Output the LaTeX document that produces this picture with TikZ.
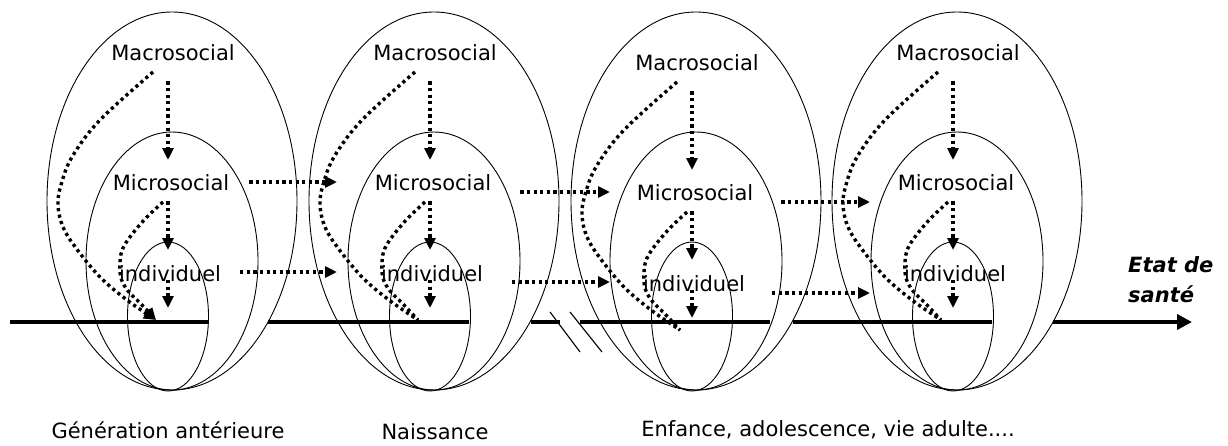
\documentclass[tikz,border=0pt]{standalone}
\usepackage{fontspec}
\setmainfont{DejaVu Sans}
\usetikzlibrary{arrows.meta}
\begin{document}
\begin{tikzpicture}[x=1pt,y=-1pt,
  ring/.style={draw=black,line width=0.9pt},
  lbl/.style={font=\fontsize{21}{25}\selectfont,inner sep=0pt},
  dots/.style={line width=3.4pt,dash pattern=on 3.2pt off 3.4pt},
  dotarrow/.style={dots,-{Triangle[length=12pt,width=11pt]}},
  axisline/.style={line width=4.5pt}]
\useasboundingbox (0,0) rectangle (1228,445);
\fill[white] (0,0) rectangle (1228,445);

% groups: index / bottom x / vertical offset
\foreach \i/\x/\d in {1/168/0, 2/430/0, 3/692/10, 4/953/0}{
  \draw[ring] (\x+4,201) ellipse [x radius=125, y radius=189];
  \draw[ring] (\x+4,261) ellipse [x radius=86, y radius=129];
  \draw[ring] (\x,316.5) ellipse [x radius=40.5, y radius=74.5];
  \node[lbl] (mac\i) at (\x+5,53+\d) {Macrosocial};
  \node[lbl] (mic\i) at (\x+3,183+\d) {Microsocial};
  \node[lbl] (ind\i) at (\x+2,274+\d) {individuel};
  \coordinate (ta\i) at (\x,160+\d);
  \coordinate (tb\i) at (\x,250+\d);
  \coordinate (tc\i) at (\x,308+\d);
  \draw[dotarrow,shorten <=20pt] (mac\i.south -| ta\i) -- (ta\i);
  \draw[dotarrow,shorten <=10pt] (mic\i.south -| tb\i) -- (tb\i);
  \draw[dotarrow,shorten <=6pt] (ind\i.center -| tc\i) -- (tc\i);
}

% curved dotted links (macro -> axis, micro -> axis)
\foreach \i/\x/\d/\tip in {1/168/0/{-{Triangle[length=12pt,width=11pt]}}, 2/430/0/{-}, 3/692/10/{-}, 4/953/0/{-}}{
  \begin{scope}[shift={(\x,\d)}]
    \draw[dots,\tip] plot[smooth,tension=0.6] coordinates {(-15,72) (-68,120) (-96,157) (-107,185) (-110,205) (-105,227) (-92,248) (-68,277) (-41,300) (-12,320)};
    \draw[dots,\tip] plot[smooth,tension=0.6] coordinates {(-5,202) (-21,217) (-35,233) (-45,248) (-48,262) (-47,278) (-40,291) (-28,303) (-12,320)};
  \end{scope}
}

% horizontal dotted links between stages
\foreach \a/\b/\tx/\ym/\yi/\sm/\si in {1/2/337/182/272/20/19, 2/3/610/192/282/29/29, 3/4/870/202/293/28/27}{
  \coordinate (hm\a) at (\tx,\ym);
  \coordinate (hi\a) at (\tx,\yi);
  \draw[dotarrow,shorten <=\sm pt] (mic\a.east |- hm\a) -- (hm\a);
  \draw[dotarrow,shorten <=\si pt] (ind\a.east |- hi\a) -- (hi\a);
}

% time axis
\draw[axisline] (10,322) -- (208,322) (268,322) -- (469,322) (531,322) -- (560,322)
  (580,322) -- (770,322) (793,322) -- (992,322);
\coordinate (axend) at (1192,322);
\draw[axisline,-{Triangle[length=15pt,width=15pt]}] (1053,322) -- (axend);
\draw[line width=1.1pt] (550,312) -- (580,352) (570,312) -- (602,352);

\node[lbl,font=\fontsize{21}{30}\selectfont\bfseries\itshape,align=left,anchor=west] (etat) at (1128,280) {Etat de\\santé};

\node[lbl] (gen) at (168,430) {Génération antérieure};
\node[lbl] (nai) at (435,432) {Naissance};
\node[lbl] (enf) at (828,430) {Enfance, adolescence, vie adulte....};
\end{tikzpicture}
\end{document}
